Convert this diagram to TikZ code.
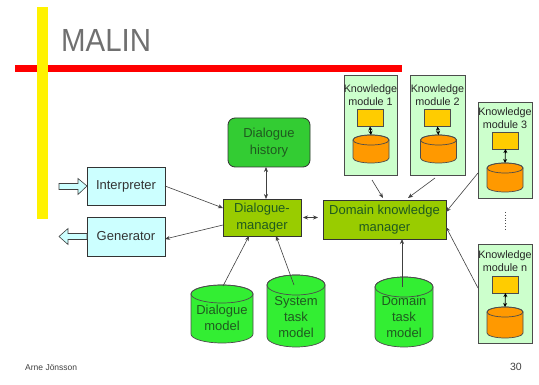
\documentclass[tikz,border=0pt]{standalone}
\usepackage{fontspec}
\setmainfont{Liberation Sans}
\usetikzlibrary{arrows.meta}
\definecolor{cyanbox}{HTML}{CCFFFF}
\definecolor{histgreen}{HTML}{33CC33}
\definecolor{cylgreen}{HTML}{33EE33}
\definecolor{olive}{HTML}{99CC00}
\definecolor{modfill}{HTML}{CCFFCC}
\definecolor{yelbox}{HTML}{FFCC00}
\definecolor{orangecyl}{HTML}{FF9900}
\definecolor{greentext}{HTML}{1F5A1F}
\definecolor{titlegray}{HTML}{707070}
\newcommand{\drawcyl}[4]{%
  \filldraw[cylline, fill=#4] ([yshift=-#3pt]#1.north west) -- ([yshift=#3pt]#1.south west)
    arc[start angle=180,end angle=360,x radius=#2pt,y radius=#3pt]
    -- ([yshift=-#3pt]#1.north east)
    arc[start angle=0,end angle=180,x radius=#2pt,y radius=#3pt] -- cycle;
  \draw[cylline] ([yshift=-#3pt]#1.north) ellipse[x radius=#2pt,y radius=#3pt];}
\begin{document}
\begin{tikzpicture}[x=1pt,y=-1pt,
  box/.style={draw=black!80, line width=0.8pt, inner sep=0pt, outer sep=0pt, align=center,
    font=\fontsize{13}{17}\selectfont},
  modbox/.style={draw=black!70, line width=0.7pt, fill=modfill, inner sep=0pt, outer sep=0pt},
  modtext/.style={align=center, inner sep=0pt, font=\fontsize{10.8}{12.5}\selectfont, text=black!85},
  yel/.style={draw=black!70, line width=0.6pt, fill=yelbox, minimum width=26pt, minimum height=17pt, inner sep=0pt, outer sep=0pt},
  cylbox/.style={draw=none, inner sep=0pt, outer sep=0pt},
  cylline/.style={draw=black!70, line width=0.7pt},
  cyltext/.style={align=center, inner sep=0pt, text=greentext, font=\fontsize{13}{16}\selectfont},
  conn/.style={draw=black!75, line width=0.6pt, -{Stealth[length=5pt,width=4pt]}},
  conn2/.style={draw=black!75, line width=0.6pt, {Stealth[length=5pt,width=4pt]}-{Stealth[length=5pt,width=4pt]}},
  inner2/.style={draw=black, line width=0.8pt, {Stealth[length=4pt,width=4pt]}-{Stealth[length=4pt,width=4pt]}},
  hollow/.style={draw=black!75, line width=0.6pt, fill=cyanbox, line join=miter}
]
\useasboundingbox (0,0) rectangle (539,385);
\fill[white] (0,0) rectangle (539,385);

% title bars
\fill[red] (15,65) rectangle (402,72);
\fill[yellow] (37,7) rectangle (48,219);
\node[anchor=base west, inner sep=0pt, text=titlegray, font=\fontsize{32}{32}\selectfont] (title) at (61,52) {\scalebox{0.92}[1]{MALIN}};

% left boxes
\node[box, fill=cyanbox, text=black!80, minimum width=78pt, minimum height=38pt] (interp) at (126,186) {Interpreter};
\node[box, fill=cyanbox, text=black!80, minimum width=78pt, minimum height=39pt] (gen) at (126,236.5) {Generator};

% hollow arrows
\filldraw[hollow] (59,183.5) -- (78,183.5) -- (78,178.5) -- (interp.west) -- (78,194.5) -- (78,189.5) -- (59,189.5) -- cycle;
\filldraw[hollow] (gen.west) ++(0,-3) -- (68,233.5) -- (68,228.5) -- (59,236.5) -- (68,244.5) -- (68,239.5) -- (87,239.5) -- cycle;

% managers
\node[box, fill=histgreen, text=greentext, rounded corners=7pt, minimum width=82pt, minimum height=49pt] (hist) at (269,142.5) {Dialogue\\history};
\node[box, fill=olive, text=greentext, minimum width=78pt, minimum height=37pt] (dm) at (262,217.5) {Dialogue-\\manager};
\node[box, fill=olive, text=greentext, minimum width=123pt, minimum height=39pt] (dkm) at (384.5,219.5) {Domain knowledge\\manager};

% green cylinders
\node[cylbox, minimum width=62pt, minimum height=58pt] (dmodel) at (222,314) {};
\drawcyl{dmodel}{31}{9}{cylgreen}
\node[cyltext] (dmodeltext) at (222,318) {Dialogue\\model};
\node[cylbox, minimum width=58pt, minimum height=72pt] (stm) at (296,311) {};
\drawcyl{stm}{29}{10}{cylgreen}
\node[cyltext] (stmtext) at (296,317) {System\\task\\model};
\node[cylbox, minimum width=58pt, minimum height=70pt] (dtm) at (404,312) {};
\drawcyl{dtm}{29}{10}{cylgreen}
\node[cyltext] (dtmtext) at (404,317) {Domain\\task\\model};

% knowledge modules
\node[modbox, minimum width=53pt, minimum height=100pt] (m1) at (370.5,125) {};
\node[modtext] (m1t) at (370.5,95) {Knowledge\\module 1};
\node[yel] (m1y) at (370,118) {};
\node[cylbox, minimum width=36pt, minimum height=28pt] (m1c) at (371,149) {};
\drawcyl{m1c}{18}{5}{orangecyl}
\draw[inner2] (m1y.south) -- (m1c.north);

\node[modbox, minimum width=55pt, minimum height=100pt] (m2) at (437.5,125) {};
\node[modtext] (m2t) at (437.5,95) {Knowledge\\module 2};
\node[yel] (m2y) at (437.5,118) {};
\node[cylbox, minimum width=36pt, minimum height=28pt] (m2c) at (438.5,149) {};
\drawcyl{m2c}{18}{5}{orangecyl}
\draw[inner2] (m2y.south) -- (m2c.north);

\node[modbox, minimum width=54pt, minimum height=96pt] (m3) at (505,150) {};
\node[modtext] (m3t) at (505,118) {Knowledge\\module 3};
\node[yel] (m3y) at (505.5,140.5) {};
\node[cylbox, minimum width=36pt, minimum height=29pt] (m3c) at (505,177.5) {};
\drawcyl{m3c}{18}{5}{orangecyl}
\draw[inner2] (m3y.south) -- (m3c.north);

\node[modbox, minimum width=54pt, minimum height=99pt] (mn) at (505,293.5) {};
\node[modtext] (mnt) at (505,261) {Knowledge\\module n};
\node[yel] (mny) at (505.5,284.5) {};
\node[cylbox, minimum width=36pt, minimum height=31pt] (mnc) at (505,322.5) {};
\drawcyl{mnc}{18}{5}{orangecyl}
\draw[inner2] (mny.south) -- (mnc.north);

\draw[black!70, line width=0.8pt, dotted] ([yshift=-14pt]m3.south) -- ([yshift=14pt]mn.north);

% connectors
\draw[conn] (interp.east) -- ([yshift=9.5pt]dm.west);
\draw[conn] ([yshift=-7.5pt]dm.west) -- ([yshift=-2.5pt]gen.east);
\draw[conn2] ([xshift=-3pt]hist.south) -- ([xshift=4pt]dm.north);
\draw[conn] ([xshift=1pt,yshift=-1pt]dmodel.north) -- ([xshift=-13pt]dm.south);
\draw[conn] ([xshift=-2pt,yshift=-10pt]stm.north) -- ([xshift=14pt]dm.south);
\draw[conn] ([xshift=-2pt,yshift=-10pt]dtm.north) -- ([xshift=17.5pt]dkm.south);
\draw[conn] ([xshift=1.5pt,yshift=-5pt]m1.south) -- ([xshift=-1.5pt,yshift=2pt]dkm.north);
\draw[conn] ([xshift=-2.5pt,yshift=-3pt]m2.south) -- ([xshift=23.5pt,yshift=2pt]dkm.north);
\draw[conn] ([yshift=-23pt]m3.west) -- ([yshift=7.5pt]dkm.east);
\draw[conn] ([yshift=5.5pt]mn.west) -- ([yshift=-7.5pt]dkm.east);
\draw[conn2] ([xshift=2pt]dm.east) -- ([xshift=-5pt]dkm.west |- dm.east);

% footer
\node[anchor=west, inner sep=0pt, text=black!75, font=\fontsize{8.5}{9}\selectfont] (author) at (25,368) {Arne Jönsson};
\node[anchor=east, inner sep=0pt, text=black!75, font=\fontsize{10.5}{11}\selectfont] (pageno) at (522,367) {30};
\end{tikzpicture}
\end{document}
